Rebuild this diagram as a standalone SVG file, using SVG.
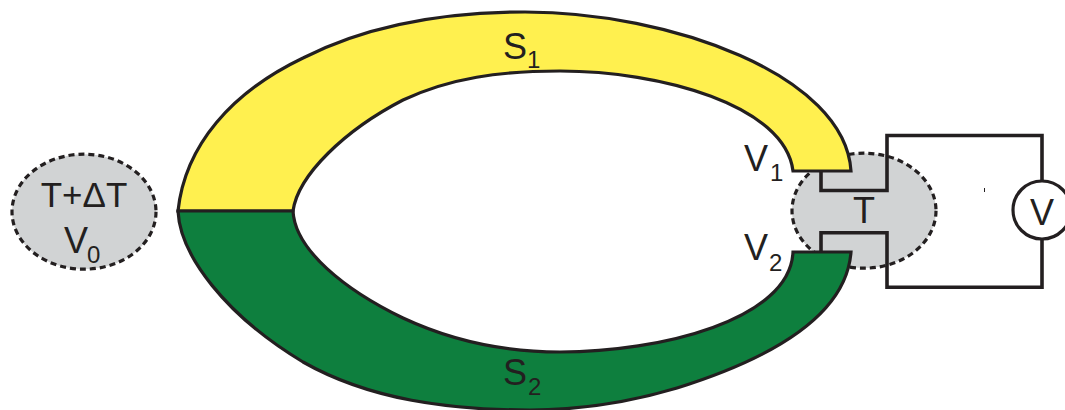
<svg xmlns="http://www.w3.org/2000/svg" width="1065" height="410" viewBox="0 0 1065 410">
<style>
.l{stroke:#231f20;stroke-width:3.2;stroke-linejoin:miter}
.w{fill:none;stroke-width:3.6}
.e{fill:#d1d3d4;stroke:#231f20;stroke-width:3.2;stroke-dasharray:6 4}
text{font-family:"Liberation Sans",Arial,sans-serif;fill:#231f20;font-size:36px}
.s{font-size:24px}
</style>
<rect width="1065" height="410" fill="#fff"/>
<g id="hot"><ellipse class="e" cx="84" cy="211.700" rx="72" ry="57.500"/>
<text x="84" y="207" text-anchor="middle" style="font-size:35px">T+ΔT</text>
<text x="64" y="253">V</text><text class="s" x="87" y="263">0</text></g>
<g id="cold"><ellipse class="e" cx="864" cy="210.700" rx="72" ry="57.500"/>
<text x="864" y="223" text-anchor="middle">T</text></g>
<g id="s1"><path class="l" fill="#fff04f" d="M178 211C185 145 232 92 303 58C370 24 450 12 525 12C670 12 845 75 851 171L793 171C785 105 660 71 560 71C500 71 450 78 403 100C345 130 298 175 293 211Z"/>
<text x="503" y="59">S</text><text class="s" x="527" y="68">1</text></g>
<g id="s2"><path class="l" fill="#0e7f3e" d="M178 211C180 255 225 315 303 362C370 400 450 410 530 410C580 410 630 402 677 388C760 362 846 320 851 252L793 252C790 320 660 352 560 352C500 352 450 340 403 318C345 290 295 250 293 211Z"/>
<text x="503" y="385">S</text><text class="s" x="528" y="395">2</text></g>
<g id="connectors">
<path class="l w" d="M821 171V190.500H887V135.500H1042V181"/>
<path class="l w" d="M821 252V232.700H887V287.300H1042V239"/>
</g>
<g id="meter"><circle cx="1042" cy="210" r="29" fill="#fff" stroke="#231f20" stroke-width="3.200"/>
<text x="1042" y="225" text-anchor="middle">V</text></g>
<g id="labels"><text x="744" y="171">V</text><text class="s" x="770" y="181">1</text>
<text x="744" y="260">V</text><text class="s" x="769" y="271">2</text></g>
<rect x="984" y="188" width="1" height="4" fill="#231f20"/>
</svg>
